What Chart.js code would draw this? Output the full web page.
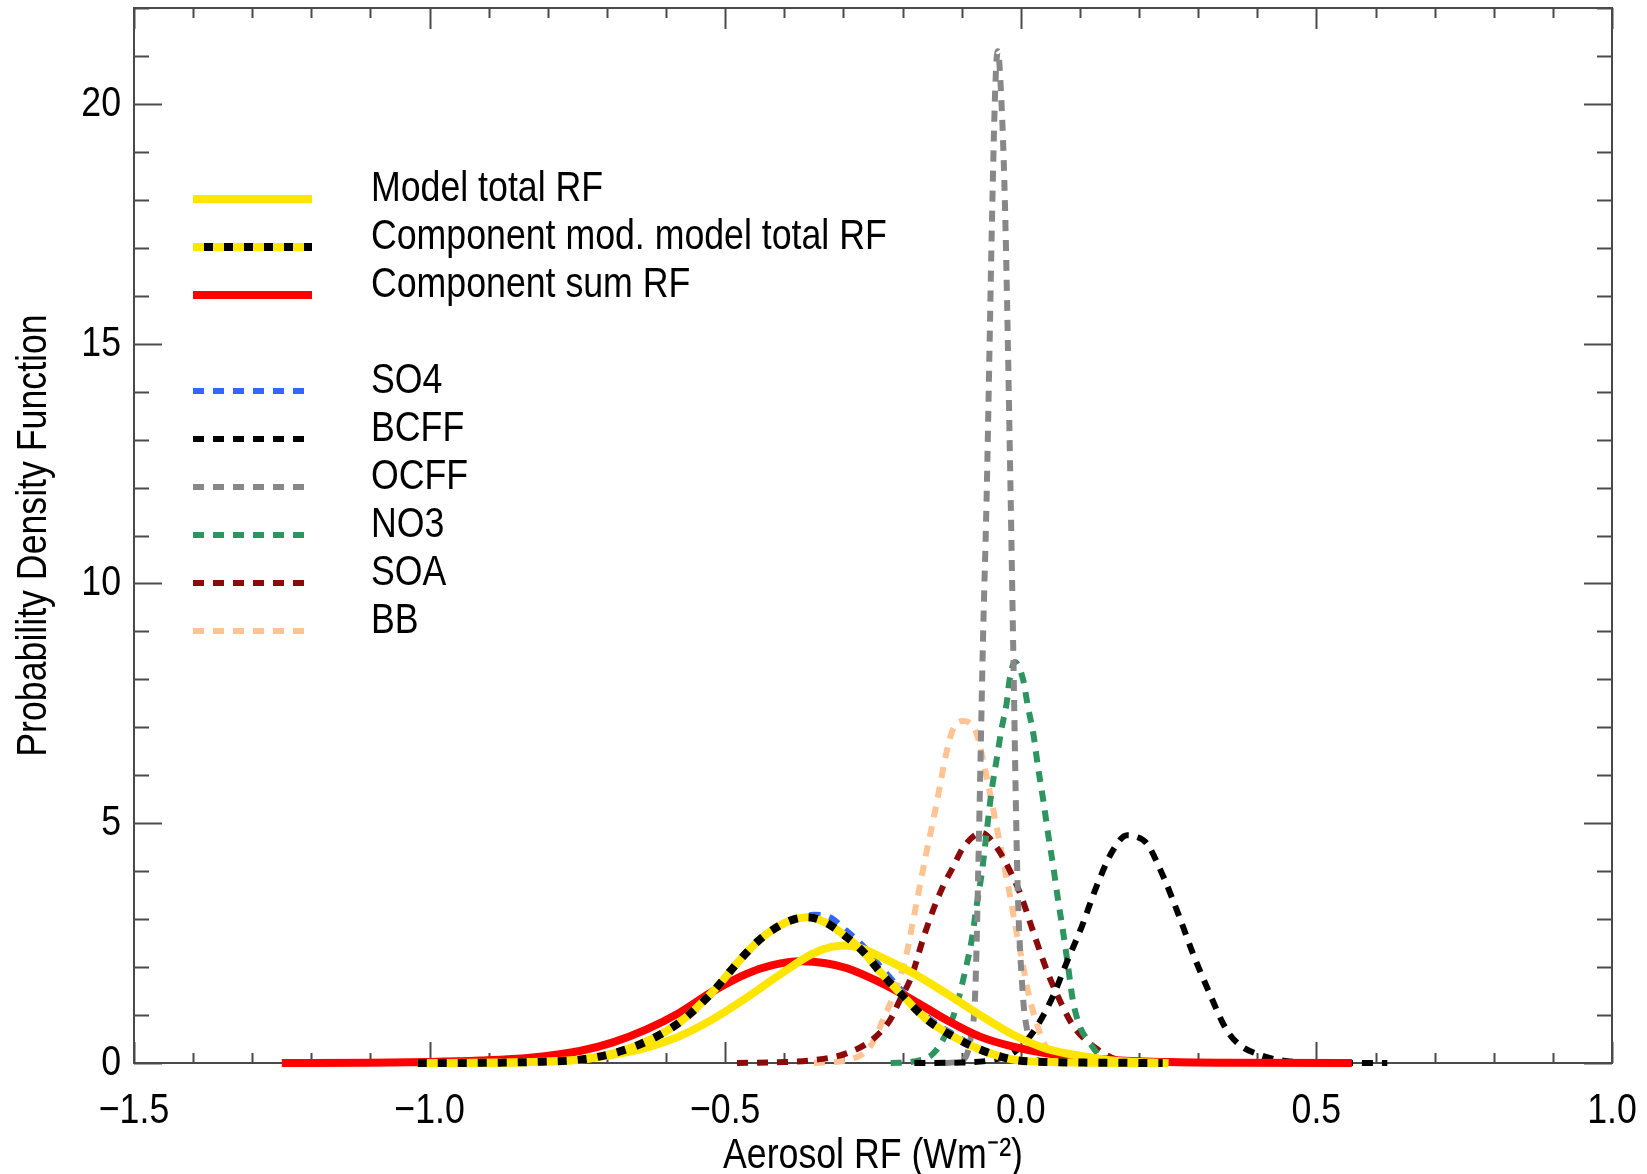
<!DOCTYPE html>
<html>
<head>
<meta charset="utf-8">
<script src="https://cdn.jsdelivr.net/npm/chart.js@4.4.1/dist/chart.umd.min.js"></script>
<style>
  html, body { margin: 0; padding: 0; background: #ffffff; }
  #wrap { width: 1647px; height: 1174px; position: relative; }
  canvas { display: block; }
</style>
</head>
<body>
<div id="wrap"><canvas id="c" width="1647" height="1174"></canvas></div>
<script>
// ---------------- data ----------------
const xTickValues = [-1.5, -1.0, -0.5, 0.0, 0.5, 1.0];
const yTickValues = [0, 5, 10, 15, 20];

const modelTotalRF = [
  [-1.0,0],[-0.9,0.005],[-0.8,0.03],[-0.74,0.08],[-0.69,0.17],[-0.633,0.32],[-0.577,0.56],
  [-0.52,0.92],[-0.464,1.36],[-0.408,1.84],[-0.352,2.28],[-0.32,2.42],[-0.295,2.45],
  [-0.265,2.37],[-0.238,2.22],[-0.182,1.87],[-0.126,1.45],[-0.069,1.0],[-0.013,0.59],
  [0.043,0.3],[0.1,0.15],[0.15,0.06],[0.2,0.02],[0.25,0]
];
const componentModTotalRF = [
  [-1.02,0],[-0.9,0.005],[-0.83,0.02],[-0.746,0.07],[-0.69,0.2],[-0.633,0.45],[-0.577,0.85],
  [-0.52,1.5],[-0.487,1.98],[-0.464,2.3],[-0.441,2.58],[-0.41,2.85],[-0.385,2.99],[-0.36,3.04],
  [-0.33,2.93],[-0.295,2.63],[-0.265,2.3],[-0.238,1.9],[-0.205,1.47],[-0.16,0.92],
  [-0.114,0.55],[-0.069,0.28],[-0.013,0.07],[0.05,0.02],[0.24,0]
];
const componentSumRF = [
  [-1.25,0],[-1.1,0.005],[-1.0,0.02],[-0.915,0.05],[-0.83,0.11],[-0.746,0.25],[-0.69,0.43],
  [-0.633,0.7],[-0.577,1.05],[-0.52,1.5],[-0.464,1.86],[-0.42,2.04],[-0.372,2.12],
  [-0.33,2.08],[-0.295,1.98],[-0.238,1.68],[-0.182,1.31],[-0.126,0.9],[-0.069,0.55],
  [-0.013,0.34],[0.043,0.2],[0.1,0.12],[0.16,0.06],[0.25,0.02],[0.35,0.005],[0.56,0]
];
const so4 = [
  [-0.95,0],[-0.83,0.02],[-0.746,0.08],[-0.69,0.2],[-0.633,0.44],[-0.577,0.83],[-0.52,1.47],
  [-0.487,1.96],[-0.441,2.56],[-0.41,2.85],[-0.38,3.0],[-0.35,3.09],[-0.325,3.05],
  [-0.295,2.76],[-0.265,2.42],[-0.238,2.02],[-0.205,1.56],[-0.16,0.98],[-0.114,0.6],
  [-0.069,0.3],[-0.013,0.08],[0.05,0.02],[0.2,0]
];
const bcff = [
  [-0.18,0],[-0.1,0.01],[-0.05,0.06],[-0.013,0.21],[0.02,0.63],[0.054,1.38],[0.077,2.08],
  [0.103,2.84],[0.128,3.68],[0.156,4.44],[0.18,4.75],[0.195,4.72],[0.213,4.58],[0.241,3.89],
  [0.266,3.12],[0.291,2.29],[0.317,1.52],[0.348,0.69],[0.37,0.38],[0.404,0.17],[0.438,0.06],
  [0.5,0.01],[0.62,0]
];
const ocff = [
  [-0.13,0],[-0.1,0.05],[-0.085,0.5],[-0.077,1.5],[-0.072,4.0],[-0.064,8.8],[-0.058,11.7],
  [-0.048,18.0],[-0.043,20.4],[-0.039,21.1],[-0.035,20.6],[-0.027,18.0],[-0.017,11.7],
  [-0.013,8.8],[-0.006,4.0],[0.003,1.5],[0.012,0.6],[0.025,0.1],[0.04,0]
];
const no3 = [
  [-0.22,0],[-0.182,0.03],[-0.148,0.2],[-0.126,0.62],[-0.109,1.17],[-0.095,1.87],[-0.083,2.57],
  [-0.075,3.26],[-0.066,3.96],[-0.058,4.79],[-0.05,5.62],[-0.041,6.32],[-0.033,6.94],
  [-0.024,7.5],[-0.019,7.99],[-0.01,8.36],[0.004,7.99],[0.012,7.43],[0.021,6.88],[0.029,6.18],
  [0.038,5.48],[0.046,4.79],[0.055,4.09],[0.063,3.4],[0.072,2.7],[0.08,2.01],[0.088,1.31],
  [0.1,0.76],[0.115,0.45],[0.13,0.2],[0.15,0.05],[0.18,0]
];
const soa = [
  [-0.48,0],[-0.4,0.02],[-0.351,0.06],[-0.295,0.2],[-0.25,0.5],[-0.221,0.9],[-0.205,1.3],
  [-0.185,1.8],[-0.165,2.6],[-0.148,3.2],[-0.131,3.7],[-0.114,4.1],[-0.097,4.5],[-0.066,4.8],
  [-0.041,4.5],[-0.02,4.05],[0.0,3.5],[0.022,2.7],[0.045,1.9],[0.07,1.2],[0.09,0.75],
  [0.128,0.3],[0.16,0.08],[0.2,0]
];
const bb = [
  [-0.35,0],[-0.295,0.06],[-0.255,0.34],[-0.233,0.9],[-0.21,1.59],[-0.193,2.29],[-0.182,2.98],
  [-0.171,3.68],[-0.16,4.37],[-0.148,5.07],[-0.137,5.76],[-0.126,6.46],[-0.115,6.95],
  [-0.098,7.13],[-0.075,6.88],[-0.064,6.32],[-0.052,5.62],[-0.041,4.93],[-0.03,4.23],
  [-0.019,3.54],[-0.009,2.84],[0.002,2.15],[0.013,1.45],[0.025,0.9],[0.037,0.48],[0.055,0.1],
  [0.08,0]
];

// ---------------- styling ----------------
const FONT = "'Liberation Sans', Arial, sans-serif";
const FSIZE = 43;
const TEXT_SX = 0.83;   // horizontal condensing of all text (Helvetica Narrow look)
const YELLOW = '#FFE500';
const RED = '#FF0000';
const pts = a => a.map(p => ({x: p[0], y: p[1]}));

function ds(label, data, color, width, dash, order, extra) {
  return Object.assign({
    label, data: pts(data), borderColor: color, backgroundColor: color,
    borderWidth: width, borderDash: dash || [], pointRadius: 0, fill: false,
    cubicInterpolationMode: 'monotone', clip: false, order,
    borderCapStyle: 'butt'
  }, extra || {});
}

const datasets = [
  ds('Model total RF', modelTotalRF, YELLOW, 8, null, 3),
  ds('Component mod. model total RF', componentModTotalRF, YELLOW, 8, null, 2, {legendKey: 'mod'}),
  ds('__modDash', componentModTotalRF, '#000000', 8, [9, 11], 1, {hideLegend: true}),
  ds('Component sum RF', componentSumRF, RED, 8, null, 4),
  ds('SO4', so4, '#3366FF', 6, [11, 9], 5),
  ds('BCFF', bcff, '#000000', 6, [11, 9], 6),
  ds('OCFF', ocff, '#888888', 6, [11, 9], 7),
  ds('NO3', no3, '#2E9460', 6, [11, 9], 8),
  ds('SOA', soa, '#8B0A0A', 6, [11, 9], 9),
  ds('BB', bb, '#FFC394', 6, [11, 9], 10)
];

// legend rows (with the gap between the two groups)
const legendRows = [
  {label: 'Model total RF', row: 0},
  {label: 'Component mod. model total RF', row: 1},
  {label: 'Component sum RF', row: 2},
  {label: 'SO4', row: 4},
  {label: 'BCFF', row: 5},
  {label: 'OCFF', row: 6},
  {label: 'NO3', row: 7},
  {label: 'SOA', row: 8},
  {label: 'BB', row: 9}
];

// condense every text drawn on this canvas around its anchor point
const canvas = document.getElementById('c');
const ctx2d = canvas.getContext('2d');
ctx2d.fillText = function (text, x, y, maxWidth) {
  this.save();
  this.translate(x, y);
  this.scale(TEXT_SX, 1);
  CanvasRenderingContext2D.prototype.fillText.call(this, text, 0, 0);
  this.restore();
};

const framePlugin = {
  id: 'frameTicks',
  beforeDatasetsDraw(chart) {
    const {ctx, chartArea: a, scales: {x, y}} = chart;
    ctx.save();
    ctx.strokeStyle = '#4a4a4a';
    ctx.lineWidth = 2;
    ctx.lineCap = 'butt';
    ctx.strokeRect(a.left, a.top, a.right - a.left, a.bottom - a.top);
    ctx.beginPath();
    for (let i = 0; i <= 25; i++) {
      const v = x.min + i * 0.1;
      const px = Math.round(x.getPixelForValue(v)) + 0.5;
      const len = (i % 5 === 0) ? 21 : 10;
      ctx.moveTo(px, a.bottom); ctx.lineTo(px, a.bottom - len);
      ctx.moveTo(px, a.top); ctx.lineTo(px, a.top + len);
    }
    for (let v = 0; v <= 22; v++) {
      const py = Math.round(y.getPixelForValue(v)) + 0.5;
      const len = (v % 5 === 0) ? 28 : 15;
      ctx.moveTo(a.left, py); ctx.lineTo(a.left + len, py);
      ctx.moveTo(a.right, py); ctx.lineTo(a.right - len, py);
    }
    ctx.stroke();
    ctx.restore();
  }
};

const legendPlugin = {
  id: 'customLegend',
  afterDatasetsDraw(chart) {
    const ctx = chart.ctx;
    const x0 = 193, x1 = 312, tx = 371, y0 = 199, dy = 48;
    ctx.save();
    ctx.font = FSIZE + 'px ' + FONT;
    ctx.textBaseline = 'alphabetic';
    ctx.textAlign = 'left';
    ctx.fillStyle = '#000';
    legendRows.forEach(r => {
      const d = chart.data.datasets.find(s => s.label === r.label);
      const yy = y0 + r.row * dy;
      ctx.beginPath();
      ctx.lineWidth = d.borderWidth;
      ctx.strokeStyle = d.borderColor;
      ctx.setLineDash(d.borderDash || []);
      ctx.lineDashOffset = 0;
      ctx.moveTo(x0, yy); ctx.lineTo(x1, yy);
      ctx.stroke();
      if (d.legendKey === 'mod') {
        const k = chart.data.datasets.find(s => s.label === '__modDash');
        ctx.beginPath();
        ctx.strokeStyle = k.borderColor;
        ctx.setLineDash(k.borderDash);
        ctx.lineDashOffset = 9;
        ctx.moveTo(x0, yy); ctx.lineTo(x1, yy);
        ctx.stroke();
      }
      ctx.setLineDash([]);
      ctx.fillText(r.label, tx, yy + 2);
    });
    ctx.restore();
  }
};

const fmtX = v => Number(v).toFixed(1).replace('-', '\u2212');

new Chart(canvas, {
  type: 'line',
  data: { datasets },
  options: {
    responsive: false,
    animation: false,
    events: [],
    layout: { padding: { left: 0, right: 35, top: 8, bottom: 0 } },
    plugins: { legend: { display: false }, tooltip: { enabled: false } },
    scales: {
      x: {
        type: 'linear', min: -1.5, max: 1.0,
        afterBuildTicks: s => { s.ticks = xTickValues.map(v => ({value: v})); },
        afterFit: s => { s.height = 111; s.paddingLeft = 0; s.paddingRight = 0; },
        ticks: {
          callback: v => fmtX(v), autoSkip: false, maxRotation: 0, minRotation: 0,
          color: '#000', padding: 22, font: { family: FONT, size: FSIZE }
        },
        grid: { display: false, drawTicks: false },
        border: { display: false },
        title: {
          display: true, text: 'Aerosol RF (Wm\u207B\u00B2)', color: '#000',
          font: { family: FONT, size: FSIZE, lineHeight: 1.0 }, padding: { top: 0, bottom: -4 }
        }
      },
      y: {
        type: 'linear', min: 0, max: 22,
        afterBuildTicks: s => { s.ticks = yTickValues.map(v => ({value: v})); },
        afterFit: s => { s.width = 134; s.paddingTop = 0; s.paddingBottom = 0; },
        ticks: {
          autoSkip: false, color: '#000', padding: 13,
          font: { family: FONT, size: FSIZE }
        },
        grid: { display: false, drawTicks: false },
        border: { display: false },
        title: {
          display: true, text: 'Probability Density Function', color: '#000',
          font: { family: FONT, size: FSIZE, lineHeight: 1.0 }, padding: { top: 13, bottom: 0 }
        }
      }
    }
  },
  plugins: [framePlugin, legendPlugin]
});
</script>
</body>
</html>
